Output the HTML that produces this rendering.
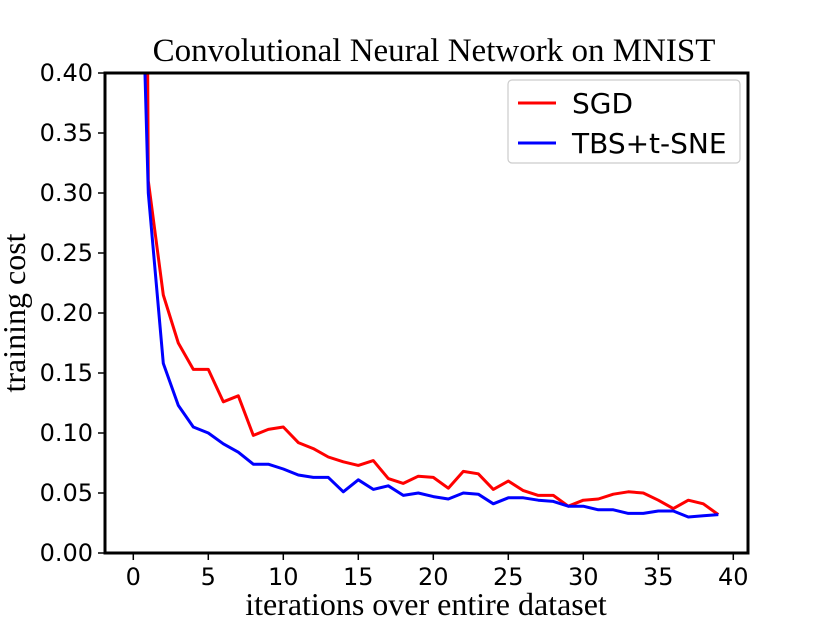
<!DOCTYPE html>
<html><head><meta charset="utf-8"><style>body{margin:0;background:#fff}svg{display:block}</style></head>
<body>
<svg id="chart" width="830" height="622" viewBox="0 0 830 622" xmlns="http://www.w3.org/2000/svg">
<defs><clipPath id="pc"><rect x="105" y="73" width="643" height="480"/></clipPath></defs>
<text x="434" y="61" text-anchor="middle" font-family="Liberation Serif, serif" font-size="33">Convolutional Neural Network on MNIST</text>
<text x="426" y="615" text-anchor="middle" font-family="Liberation Serif, serif" font-size="32">iterations over entire dataset</text>
<text transform="translate(25,313) rotate(-90)" text-anchor="middle" font-family="Liberation Serif, serif" font-size="32">training cost</text>
<g id="ticks"></g>
<g id="series" clip-path="url(#pc)"></g>
<rect x="105" y="73" width="643" height="480" fill="none" stroke="#000" stroke-width="3"/>
<g>
<rect x="508" y="80" width="232" height="83" rx="4" fill="#fff" stroke="#ccc" stroke-width="1.2"/>
<line x1="518" y1="103" x2="556" y2="103" stroke="#f00" stroke-width="3"/>
<text x="572" y="113" font-family="DejaVu Sans, sans-serif" font-size="28">SGD</text>
<line x1="518" y1="143" x2="556" y2="143" stroke="#00f" stroke-width="3"/>
<text x="572" y="153" font-family="DejaVu Sans, sans-serif" font-size="28">TBS+t-SNE</text>
</g>
</svg>
<script>
const iterations = Array.from({length:40},(_,i)=>i);
const sgdCost = [2.5,0.31,0.215,0.175,0.153,0.153,0.126,0.131,0.098,0.103,0.105,0.092,0.087,0.080,0.076,0.073,0.077,0.062,0.058,0.064,0.063,0.054,0.068,0.066,0.053,0.060,0.052,0.048,0.048,0.039,0.044,0.045,0.049,0.051,0.050,0.044,0.037,0.044,0.041,0.032];
const tbsCost = [0.75,0.30,0.158,0.123,0.105,0.100,0.091,0.084,0.074,0.074,0.070,0.065,0.063,0.063,0.051,0.061,0.053,0.056,0.048,0.050,0.047,0.045,0.050,0.049,0.041,0.046,0.046,0.044,0.043,0.039,0.039,0.036,0.036,0.033,0.033,0.035,0.035,0.030,0.031,0.032];
const xTicks = [0,5,10,15,20,25,30,35,40];
const yTicks = [0,0.05,0.10,0.15,0.20,0.25,0.30,0.35,0.40];
const xs = v => 133.3 + v*15;
const ys = v => 553 - v*1200;
const NS='http://www.w3.org/2000/svg';
const tg=document.getElementById('ticks');
xTicks.forEach(t=>{
  const l=document.createElementNS(NS,'line');
  
  
  l.setAttribute('x1',xs(t));l.setAttribute('x2',xs(t));l.setAttribute('y1',553);l.setAttribute('y2',560);l.setAttribute('stroke','#000');l.setAttribute('stroke-width','1.5');tg.appendChild(l);
  const tx=document.createElementNS(NS,'text');
  
  
  tx.setAttribute('x',xs(t));tx.setAttribute('y',585);tx.setAttribute('text-anchor','middle');tx.setAttribute('font-family','DejaVu Sans, sans-serif');tx.setAttribute('font-size','24');tx.textContent=t;tg.appendChild(tx);
});
yTicks.forEach(t=>{
  const l=document.createElementNS(NS,'line');
  
  
  l.setAttribute('x1',98);l.setAttribute('x2',105);l.setAttribute('y1',ys(t));l.setAttribute('y2',ys(t));l.setAttribute('stroke','#000');l.setAttribute('stroke-width','1.5');tg.appendChild(l);
  const tx=document.createElementNS(NS,'text');
  
  
  tx.setAttribute('x',93);tx.setAttribute('y',ys(t)+8);tx.setAttribute('text-anchor','end');tx.setAttribute('font-family','DejaVu Sans, sans-serif');tx.setAttribute('font-size','24');tx.textContent=t.toFixed(2);tg.appendChild(tx);
});
const sg=document.getElementById('series');
[[sgdCost,'#f00','sgd-line'],[tbsCost,'#00f','tbs-tsne-line']].forEach(([d,c,n])=>{
  const p=document.createElementNS(NS,'polyline');
  
  
  p.setAttribute('points',d.map((v,i)=>xs(iterations[i])+','+ys(v)).join(' '));
  p.setAttribute('fill','none');p.setAttribute('stroke',c);p.setAttribute('stroke-width','3');p.setAttribute('stroke-linejoin','round');
  sg.appendChild(p);
});
</script>
</body></html>
